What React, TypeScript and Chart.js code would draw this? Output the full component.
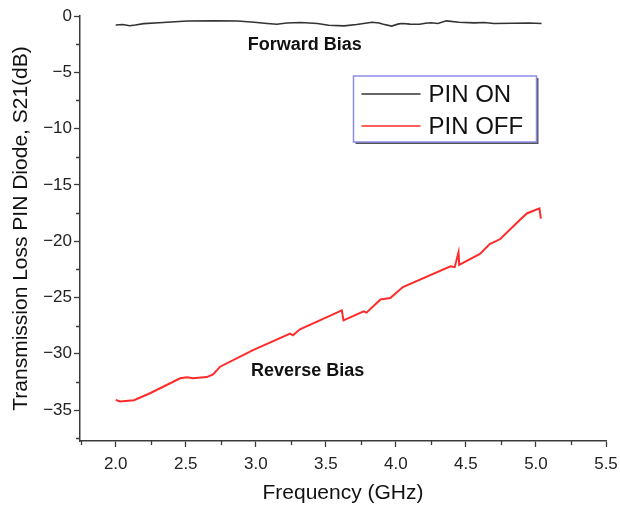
import React, { useEffect, useRef } from 'react';
import { Chart, registerables } from 'chart.js';

Chart.register(...registerables);

// ---- data ----
const onFreq = [2.00, 2.05, 2.10, 2.14, 2.20, 2.31, 2.51, 2.70, 2.87, 2.99, 3.08, 3.15, 3.22, 3.32, 3.44, 3.52, 3.63, 3.72, 3.83, 3.88, 3.91, 3.97, 4.02, 4.05, 4.10, 4.17, 4.21, 4.25, 4.30, 4.36, 4.45, 4.56, 4.63, 4.70, 4.84, 4.95, 5.04];
const onS21 = [-0.80, -0.76, -0.86, -0.80, -0.68, -0.60, -0.45, -0.43, -0.44, -0.55, -0.66, -0.73, -0.62, -0.58, -0.67, -0.82, -0.88, -0.76, -0.55, -0.62, -0.73, -0.90, -0.70, -0.66, -0.72, -0.73, -0.64, -0.60, -0.66, -0.43, -0.55, -0.61, -0.58, -0.67, -0.64, -0.62, -0.66];

const offFreq = [2.00, 2.03, 2.13, 2.245, 2.46, 2.51, 2.55, 2.65, 2.695, 2.745, 2.98, 3.245, 3.265, 3.315, 3.614, 3.626, 3.77, 3.79, 3.89, 3.96, 4.05, 4.39, 4.42, 4.447, 4.452, 4.60, 4.67, 4.745, 4.89, 4.935, 5.025, 5.035];
const offS21 = [-34.10, -34.24, -34.13, -33.51, -32.18, -32.09, -32.18, -32.07, -31.83, -31.15, -29.68, -28.21, -28.36, -27.83, -26.15, -27.03, -26.24, -26.35, -25.18, -25.05, -24.08, -22.23, -22.31, -20.99, -22.11, -21.14, -20.26, -19.81, -18.05, -17.54, -17.08, -17.99];

const seriesLabels = ['PIN ON', 'PIN OFF'];
const seriesColors = ['#333333', '#ff2a2a'];

const xTicks = [2.0, 2.5, 3.0, 3.5, 4.0, 4.5, 5.0, 5.5];
const xMinorTicks = [1.75, 2.25, 2.75, 3.25, 3.75, 4.25, 4.75, 5.25];
const yTicks = [0, -5, -10, -15, -20, -25, -30, -35];
const yMinorTicks = [-2.5, -7.5, -12.5, -17.5, -22.5, -27.5, -32.5, -37.5];

const annotationTexts = ['Forward Bias', 'Reverse Bias'];
const annotationX = [3.35, 3.37];
const annotationY = [-2.55, -31.5];

const FONT = '"Liberation Sans", Arial, Helvetica, sans-serif';
const AXIS = '#3a3a3a';

const extrasPlugin = {
  id: 'extras',
  afterDraw(chart: any) {
    const ctx = chart.ctx;
    const xs = chart.scales.x;
    const ys = chart.scales.y;
    const area = chart.chartArea;
    ctx.save();

    // minor ticks
    ctx.strokeStyle = AXIS;
    ctx.lineWidth = 1.3;
    ctx.beginPath();
    xMinorTicks.forEach((v) => {
      const px = Math.round(xs.getPixelForValue(v)) + 0.5;
      ctx.moveTo(px, area.bottom);
      ctx.lineTo(px, area.bottom + 4);
    });
    yMinorTicks.forEach((v) => {
      const py = Math.round(ys.getPixelForValue(v)) + 0.5;
      ctx.moveTo(area.left, py);
      ctx.lineTo(area.left - 4, py);
    });
    ctx.stroke();

    // annotations
    ctx.fillStyle = '#111';
    ctx.font = `bold 18px ${FONT}`;
    ctx.textAlign = 'center';
    ctx.textBaseline = 'middle';
    annotationTexts.forEach((t, i) => {
      ctx.fillText(t, xs.getPixelForValue(annotationX[i]), ys.getPixelForValue(annotationY[i]));
    });

    // legend
    const bx = 353.5, by = 76, bw = 183, bh = 66;
    ctx.fillStyle = '#555';
    ctx.fillRect(bx + 2, by + 2, bw, bh);
    ctx.fillStyle = '#fff';
    ctx.fillRect(bx, by, bw, bh);
    ctx.strokeStyle = '#8c8ce6';
    ctx.lineWidth = 1.5;
    ctx.strokeRect(bx, by, bw, bh);
    ctx.font = `24px ${FONT}`;
    ctx.textAlign = 'left';
    ctx.textBaseline = 'middle';
    chart.data.datasets.forEach((ds: any, i: number) => {
      const ly = by + 18 + i * 32;
      ctx.strokeStyle = ds.borderColor;
      ctx.lineWidth = 1.6;
      ctx.beginPath();
      ctx.moveTo(bx + 8, ly);
      ctx.lineTo(bx + 67, ly);
      ctx.stroke();
      ctx.fillStyle = '#111';
      ctx.fillText(ds.label, bx + 75, ly + 1);
    });
    ctx.restore();
  },
};

export default function App() {
  const canvasRef = useRef<HTMLCanvasElement | null>(null);

  useEffect(() => {
    if (!canvasRef.current) return;
    const chart = new Chart(canvasRef.current, {
      type: 'line',
      data: {
        datasets: [
          {
            label: seriesLabels[0],
            data: onFreq.map((f, i) => ({ x: f, y: onS21[i] })),
            borderColor: seriesColors[0],
            borderWidth: 1.6,
            pointRadius: 0,
            tension: 0,
          },
          {
            label: seriesLabels[1],
            data: offFreq.map((f, i) => ({ x: f, y: offS21[i] })),
            borderColor: seriesColors[1],
            borderWidth: 2,
            pointRadius: 0,
            tension: 0,
          },
        ],
      },
      options: {
        responsive: false,
        animation: false,
        layout: { padding: { left: 0, right: 14, top: 16, bottom: 0 } },
        plugins: { legend: { display: false }, tooltip: { enabled: false } },
        scales: {
          x: {
            type: 'linear',
            min: 1.745,
            max: 5.5,
            afterFit: (s: any) => { s.height = 69; s.paddingRight = 0; s.paddingLeft = 0; },
            afterBuildTicks: (s: any) => { s.ticks = xTicks.map((v) => ({ value: v })); },
            grid: { display: true, drawOnChartArea: false, drawTicks: true, tickLength: 6, tickColor: AXIS, tickWidth: 1.3 },
            border: { display: true, color: AXIS, width: 1.5 },
            ticks: {
              padding: 7,
              color: '#222',
              font: { family: FONT, size: 17 },
              maxRotation: 0,
              autoSkip: false,
              callback: (v: any) => Number(v).toFixed(1),
            },
            title: {
              display: true,
              text: 'Frequency (GHz)',
              color: '#111',
              font: { family: FONT, size: 21 },
              padding: { top: 0, bottom: 4 },
            },
          },
          y: {
            type: 'linear',
            min: -37.75,
            max: 0,
            afterFit: (s: any) => { s.width = 80; s.paddingTop = 0; s.paddingBottom = 0; },
            afterBuildTicks: (s: any) => { s.ticks = yTicks.map((v) => ({ value: v })); },
            grid: { display: true, drawOnChartArea: false, drawTicks: true, tickLength: 6, tickColor: AXIS, tickWidth: 1.3 },
            border: { display: true, color: AXIS, width: 1.5 },
            ticks: {
              padding: 2,
              color: '#222',
              font: { family: FONT, size: 17 },
              autoSkip: false,
              callback: (v: any) => (Number(v) === 0 ? '0' : '\u2212' + Math.abs(Number(v))),
            },
            title: {
              display: true,
              text: 'Transmission Loss PIN Diode, S21(dB)',
              color: '#111',
              font: { family: FONT, size: 21 },
              padding: { top: 9, bottom: 0 },
            },
          },
        },
      },
      plugins: [extrasPlugin],
    } as any);
    return () => chart.destroy();
  }, []);

  return (
    <div style={{ position: 'fixed', left: 0, top: 0, width: 620, height: 510, background: '#fff' }}>
      <canvas ref={canvasRef} width={620} height={510} style={{ display: 'block' }} />
    </div>
  );
}
